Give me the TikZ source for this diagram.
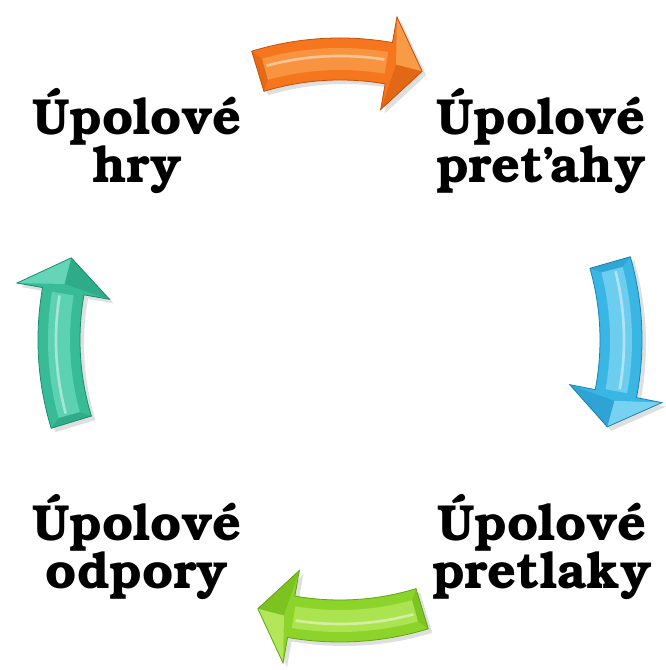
\documentclass[tikz,border=0pt]{standalone}
\usepackage[T1]{fontenc}
\usepackage{bookman}
\usepackage{tikz}
\usetikzlibrary{shadows}

\definecolor{oranz}{RGB}{245,118,28}
\definecolor{oranzsvetla}{RGB}{252,178,100}
\definecolor{oranztmava}{RGB}{196,80,10}
\definecolor{modra}{RGB}{58,182,228}
\definecolor{modrasvetla}{RGB}{160,228,250}
\definecolor{modratmava}{RGB}{28,130,180}
\definecolor{zelena}{RGB}{140,212,42}
\definecolor{zelenasvetla}{RGB}{205,242,120}
\definecolor{zelenatmava}{RGB}{96,165,18}
\definecolor{tyrkys}{RGB}{56,188,152}
\definecolor{tyrkyssvetla}{RGB}{130,232,205}
\definecolor{tyrkystmava}{RGB}{28,140,110}

\tikzset{
  txt/.style={font=\fontsize{38}{34}\selectfont\bfseries, align=center},
  tien/.style={drop shadow={opacity=0.25, shadow xshift=3pt, shadow yshift=-3pt}}
}

% block arrow on the circle: #1 middle angle, #2 colour name
\newcommand{\kruhsipka}[2]{%
  \pgfmathsetmacro\zac{#1+17}%
  \pgfmathsetmacro\hlava{#1-10}%
  \pgfmathsetmacro\hrot{#1-17}%
  \fill[#2, tien] (\zac:302) arc[start angle=\zac, end angle=\hlava, radius=302]
    -- (\hlava:328) -- (\hrot:281) -- (\hlava:234) -- (\hlava:260)
    arc[start angle=\hlava, end angle=\zac, radius=260] -- cycle;
  % bevel
  \fill[#2svetla, opacity=0.5] (\zac-1.5:292) arc[start angle=\zac-1.5, end angle=\hlava+0.5, radius=292]
    -- (\hlava+0.5:270) arc[start angle=\hlava+0.5, end angle=\zac-1.5, radius=270] -- cycle;
  \draw[white, opacity=0.45, line width=2pt] (\zac-2:284) arc[start angle=\zac-2, end angle=\hlava+1, radius=284];
  \fill[#2svetla, opacity=0.6] (\hlava:328) -- (\hrot:281) -- (\hlava-1.5:281) -- cycle;
  \fill[#2tmava, opacity=0.35] (\hlava:234) -- (\hrot:281) -- (\hlava-1.5:281) -- cycle;
  \fill[#2tmava, opacity=0.3] (\zac:302) -- (\zac-1.5:292) -- (\zac-1.5:270) -- (\zac:260) -- cycle;
  \draw[#2tmava, line width=0.6pt] (\zac:302) arc[start angle=\zac, end angle=\hlava, radius=302]
    -- (\hlava:328) -- (\hrot:281) -- (\hlava:234) -- (\hlava:260)
    arc[start angle=\hlava, end angle=\zac, radius=260] -- cycle;
}

\begin{document}
\begin{tikzpicture}[x=0.75pt, y=0.75pt]
    \useasboundingbox (0,0) rectangle (665,670);
    \coordinate (c) at (340,330);

    \node[txt] (hry)      at (137,529) {\'Upolov\'e\\hry};
    \node[txt] (pretahy)  at (541,529) {\'Upolov\'e\\pre\v{t}\kern-0.12em ahy};
    \node[txt] (pretlaky) at (542,123) {\'Upolov\'e\\pretlaky};
    \node[txt] (odpory)   at (137,123) {\'Upolov\'e\\odpory};

    \begin{scope}[shift={(c)}]
        \kruhsipka{90}{oranz}
        \kruhsipka{-1}{modra}
        \kruhsipka{-90}{zelena}
        \kruhsipka{180}{tyrkys}
    \end{scope}
\end{tikzpicture}
\end{document}
